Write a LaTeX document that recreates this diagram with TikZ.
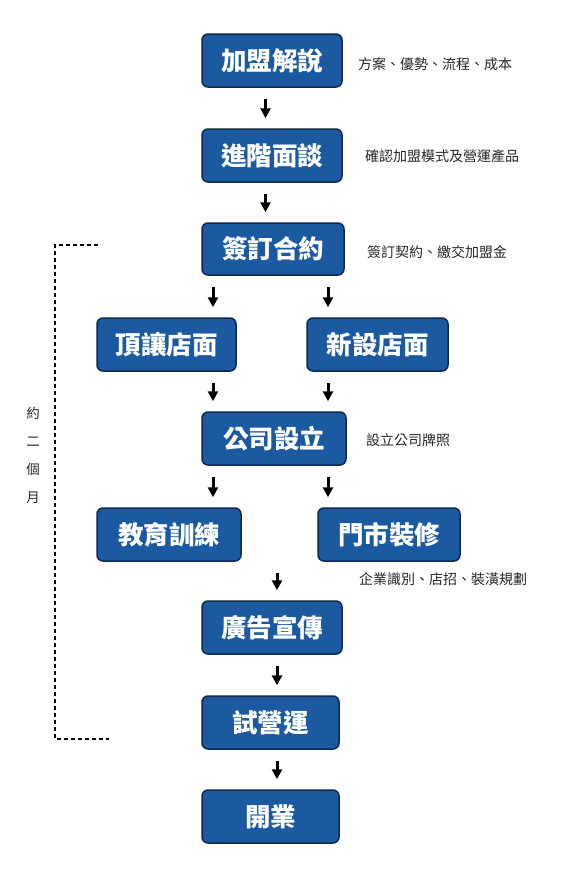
\documentclass[tikz,border=0pt]{standalone}
\usepackage{fontspec}
\newfontfamily\cjk{Noto Sans CJK TC}
\newfontfamily\cjkheavy{Noto Sans CJK TC Black}
\usetikzlibrary{arrows.meta}
\definecolor{boxblue}{HTML}{1B5AA0}
\definecolor{boxline}{HTML}{10284A}
\tikzset{
  stepbox/.style={draw=boxline, line width=1.5pt, fill=boxblue, rounded corners=6pt,
    minimum width=140pt, minimum height=53pt, inner sep=0pt, text=white,
    font=\cjkheavy\fontsize{25.5}{25.5}\selectfont},
  note/.style={anchor=west, inner sep=0pt, text=black!85,
    font=\cjk\fontsize{14}{14}\selectfont},
  arr/.style={line width=3pt, -{Triangle[width=10pt,length=10pt]},
    shorten <=11pt, shorten >=10pt},
  bracket/.style={line width=1.1pt, dash pattern=on 4pt off 3pt},
}
\begin{document}
\begin{tikzpicture}[x=1pt, y=-1pt]
\useasboundingbox[fill=white] (0,0) rectangle (578,878);
% boxes
\node[stepbox] (b1) at (272,60.5) {加盟解說};
\node[stepbox] (b2) at (272,155.5) {進階面談};
\node[stepbox, minimum width=142pt, minimum height=52pt] (b3) at (273,249) {簽訂合約};
\node[stepbox, minimum width=139pt] (b4) at (166.5,344.5) {頂讓店面};
\node[stepbox, minimum width=141pt] (b5) at (377.5,344.5) {新設店面};
\node[stepbox, minimum width=144pt] (b6) at (274,438.5) {公司設立};
\node[stepbox, minimum width=144pt] (b7) at (169,534.5) {教育訓練};
\node[stepbox, minimum width=142pt] (b8) at (389,534.5) {門市裝修};
\node[stepbox] (b9) at (272,627.5) {廣告宣傳};
\node[stepbox, minimum width=137pt] (b10) at (270.5,722.5) {試營運};
\node[stepbox, minimum width=137pt] (b11) at (270.5,816.5) {開業};
% notes
\node[note] (n1) at (358,64) {方案、優勢、流程、成本};
\node[note] (n2) at (365,156) {確認加盟模式及營運產品};
\node[note] (n3) at (367,252) {簽訂契約、繳交加盟金};
\node[note] (n6) at (366,440) {設立公司牌照};
\node[note] (n8) at (359,579) {企業識別、店招、裝潢規劃};
% columns for arrows
\coordinate (c1) at (265.5,0);
\coordinate (cL) at (213,0);
\coordinate (cR) at (328,0);
\coordinate (cM) at (277,0);
% arrows
\draw[arr] (b1.south -| c1) -- (b2.north -| c1);
\draw[arr] (b2.south -| c1) -- (b3.north -| c1);
\draw[arr] (b3.south -| cL) -- (b4.north -| cL);
\draw[arr] (b3.south -| cR) -- (b5.north -| cR);
\draw[arr] (b4.south -| cL) -- (b6.north -| cL);
\draw[arr] (b5.south -| cR) -- (b6.north -| cR);
\draw[arr] (b6.south -| cL) -- (b7.north -| cL);
\draw[arr] (b6.south -| cR) -- (b8.north -| cR);
\draw[arr] (b7.south -| cM) -- (b9.north -| cM);
\draw[arr] (b9.south -| cM) -- (b10.north -| cM);
\draw[arr] (b10.south -| cM) -- (b11.north -| cM);
% dashed bracket
\coordinate (d1) at (98,245);
\coordinate (d2) at (55,245);
\coordinate (d3) at (55,739);
\coordinate (d4) at (109,739);
\draw[bracket] (d1) -- (d2) -- (d3) -- (d4);
% side label
\node[inner sep=0pt, text=black!85, font=\cjk\fontsize{13.5}{28}\selectfont, align=center] (side) at (33,455) {約\\二\\個\\月};
\end{tikzpicture}
\end{document}
